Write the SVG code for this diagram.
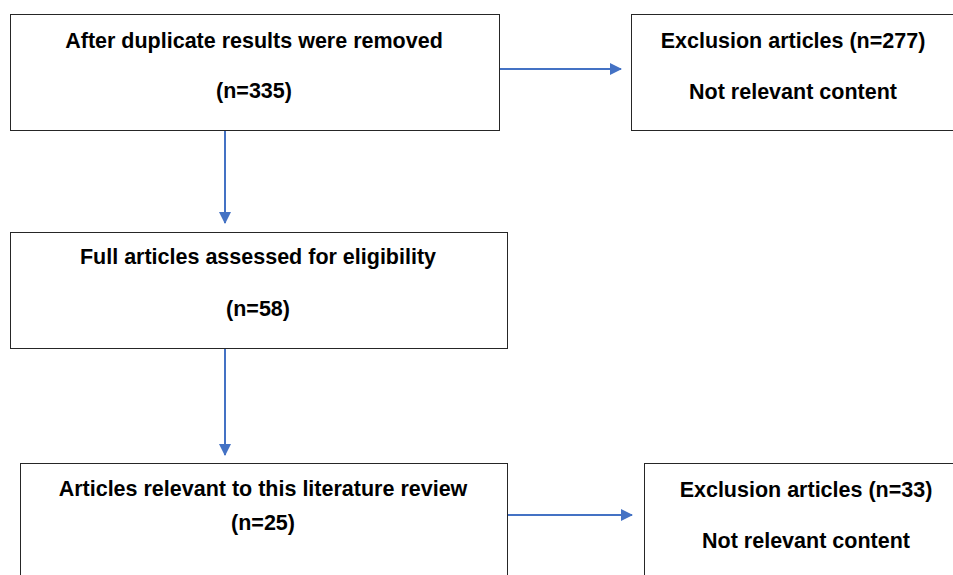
<svg xmlns="http://www.w3.org/2000/svg" width="953" height="575" viewBox="0 0 953 575">
<style>
.box{fill:#fff;stroke:#262626;stroke-width:1}
.t{font-family:"Liberation Sans",Arial,sans-serif;font-weight:bold;font-size:21.5px;fill:#000;text-anchor:middle}
.c{stroke:#4472C4;stroke-width:2;fill:none}
</style>
<defs>
<marker id="ah" markerWidth="12" markerHeight="12" refX="11" refY="6" orient="auto" markerUnits="userSpaceOnUse">
<path d="M0,0 L12,6 L0,12 Z" fill="#4472C4"/>
</marker>
</defs>
<rect width="953" height="575" fill="#fff"/>
<g id="connectors">
<line class="c" x1="499" y1="69" x2="621" y2="69" marker-end="url(#ah)"/>
<line class="c" x1="225" y1="130" x2="225" y2="223" marker-end="url(#ah)"/>
<line class="c" x1="225" y1="348" x2="225" y2="455" marker-end="url(#ah)"/>
<line class="c" x1="507" y1="515" x2="632" y2="515" marker-end="url(#ah)"/>
</g>
<g id="n1">
<rect class="box" x="10.5" y="14.5" width="489" height="116"/>
<text class="t" x="254" y="48">After duplicate results were removed</text>
<text class="t" x="254" y="98">(n=335)</text>
</g>
<g id="n2">
<rect class="box" x="631.5" y="14.5" width="330" height="116"/>
<text class="t" x="793" y="48">Exclusion articles (n=277)</text>
<text class="t" x="793" y="99">Not relevant content</text>
</g>
<g id="n3">
<rect class="box" x="10.5" y="232.5" width="497" height="116"/>
<text class="t" x="258" y="264">Full articles assessed for eligibility</text>
<text class="t" x="258" y="316">(n=58)</text>
</g>
<g id="n4">
<rect class="box" x="20.5" y="463.5" width="487" height="120"/>
<text class="t" x="263" y="496">Articles relevant to this literature review</text>
<text class="t" x="263" y="530">(n=25)</text>
</g>
<g id="n5">
<rect class="box" x="644.5" y="463.5" width="320" height="120"/>
<text class="t" x="806" y="497">Exclusion articles (n=33)</text>
<text class="t" x="806" y="548">Not relevant content</text>
</g>
</svg>
